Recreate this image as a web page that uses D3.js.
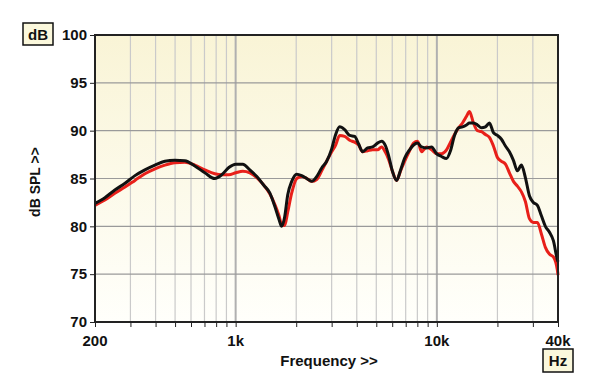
<!DOCTYPE html>
<html>
<head>
<meta charset="utf-8">
<script src="https://cdn.jsdelivr.net/npm/d3@7"></script>
<style>
  body { margin: 0; background: #fff; }
  svg text { font-family: "Liberation Sans", Arial, sans-serif; font-weight: bold; fill: #111; }
</style>
</head>
<body>
<div id="chart"></div>
<script>
// frequency points (Hz) shared by both traces
const freqs = [200, 224, 251, 282, 316, 354, 397, 445, 499, 559, 627, 703, 788, 854, 925, 1002,
  1085, 1176, 1274, 1380, 1478, 1565, 1638, 1694, 1753, 1815, 1900, 2012, 2130, 2255, 2388, 2528,
  2677, 2834, 3001, 3141, 3288, 3481, 3686, 3903, 4086, 4276, 4527, 4793, 5075, 5313, 5562, 5757,
  6026, 6308, 6603, 6911, 7318, 7660, 8018, 8393, 8886, 9409, 9962, 10548, 11168, 11690, 12238,
  12812, 13410, 14040, 14522, 15204, 15914, 16658, 17436, 18254, 19104, 20000, 20940, 21920,
  22940, 24020, 25140, 26320, 27540, 28840, 30180, 31600, 33080, 34620, 36240, 37940, 39720, 40000]

const blackSPL = [82.4, 83.0, 83.8, 84.5, 85.3, 85.9, 86.4, 86.8, 86.9, 86.85, 86.3, 85.6, 85.0, 85.4, 86.15, 86.5,
  86.5, 85.9, 85.2, 84.3, 83.5, 82.1, 80.8, 80.0, 81.0, 83.3, 84.7, 85.45, 85.3, 85.0, 84.7, 85.2,
  86.1, 86.8, 88.1, 89.6, 90.4, 90.1, 89.5, 89.4, 88.6, 87.8, 88.2, 88.3, 88.7, 88.9, 88.4, 87.4,
  85.7, 84.8, 85.9, 87.1, 88.0, 88.5, 88.7, 88.3, 88.2, 88.3, 87.6, 87.3, 87.1, 87.9, 89.5,
  90.3, 90.4, 90.6, 90.8, 90.8, 90.6, 90.3, 90.4, 90.8, 89.8, 89.5, 89.1, 88.4,
  87.8, 86.9, 85.8, 86.4, 85.1, 83.2, 82.5, 82.2, 81.1, 80.0, 79.4, 78.5, 76.5, 76.3]

const redSPL = [82.2, 82.75, 83.45, 84.1, 84.8, 85.5, 86.0, 86.4, 86.65, 86.7, 86.4, 85.9, 85.5, 85.4, 85.4, 85.6,
  85.75, 85.6, 85.1, 84.3, 83.4, 82.3, 81.2, 80.2, 80.1, 81.5, 83.5, 85.0, 85.2, 85.0, 84.7, 84.9,
  85.8, 86.8, 87.8, 88.5, 89.5, 89.4, 89.0, 88.8, 88.5, 87.8, 87.9, 88.0, 88.0, 88.3, 87.7, 87.0,
  85.7, 84.8, 85.8, 86.8, 87.9, 88.7, 88.9, 87.8, 88.3, 88.0, 87.6, 87.6, 88.0, 88.8, 89.6,
  90.3, 90.8, 91.5, 92.0, 90.8, 90.0, 89.9, 89.6, 89.3, 88.4, 87.2, 86.8, 86.5,
  85.6, 84.7, 84.2, 83.6, 82.6, 80.8, 80.4, 80.4, 79.2, 77.8, 77.1, 76.8, 75.4, 74.9]

const yTicks = [70, 75, 80, 85, 90, 95, 100]
const xGrid = [200, 300, 400, 500, 600, 700, 800, 900, 1000, 2000, 3000, 4000, 5000, 6000, 7000, 8000, 9000,
  10000, 20000, 30000, 40000]
const xLabels = [[200, "200"], [1000, "1k"], [10000, "10k"], [40000, "40k"]]

const W = 600, H = 389
const margin = {left: 95, right: 42, top: 35, bottom: 67}

const x = d3.scaleLog().domain([200, 40000]).range([margin.left, W - margin.right])
const y = d3.scaleLinear().domain([70, 100]).range([H - margin.bottom, margin.top])

const svg = d3.select('#chart').append('svg')
    .attr('width', W)
    .attr('height', H)

const defs = svg.append('defs')
const grad = defs.append('linearGradient')
    .attr('id', 'bg').attr('x1', 0).attr('y1', 0).attr('x2', 0).attr('y2', 1)
grad.append('stop').attr('offset', '0%').attr('stop-color', '#f9f4d6')
grad.append('stop').attr('offset', '100%').attr('stop-color', '#fffffb')

svg.append('rect')
    .attr('x', x(200)).attr('y', y(100))
    .attr('width', x(40000) - x(200)).attr('height', y(70) - y(100))
    .attr('fill', 'url(#bg)')

// vertical grid
svg.append('g').selectAll('line')
    .data(xGrid)
    .join('line')
    .attr('x1', d => x(d)).attr('x2', d => x(d))
    .attr('y1', y(100)).attr('y2', y(70))
    .attr('stroke', d => (d === 1000 || d === 10000) ? '#b0b0b0' : '#cacaca')
    .attr('stroke-width', d => (d === 1000 || d === 10000) ? 2 : 1.2)

// horizontal grid
svg.append('g').selectAll('line')
    .data(yTicks)
    .join('line')
    .attr('x1', x(200)).attr('x2', x(40000))
    .attr('y1', d => y(d)).attr('y2', d => y(d))
    .attr('stroke', '#9a9a9a')
    .attr('stroke-width', 1.2)

// traces
const line = d3.line()
    .x((d, i) => x(freqs[i]))
    .y(d => y(d))
    .curve(d3.curveMonotoneX)

svg.append('path')
    .attr('d', line(redSPL))
    .attr('fill', 'none')
    .attr('stroke', '#e8201a')
    .attr('stroke-width', 3)
    .attr('stroke-linejoin', 'round')

svg.append('path')
    .attr('d', line(blackSPL))
    .attr('fill', 'none')
    .attr('stroke', '#111')
    .attr('stroke-width', 3)
    .attr('stroke-linejoin', 'round')

// frame
svg.append('rect')
    .attr('x', x(200)).attr('y', y(100))
    .attr('width', x(40000) - x(200)).attr('height', y(70) - y(100))
    .attr('fill', 'none')
    .attr('stroke', '#222')
    .attr('stroke-width', 2)

// y axis
const yAxis = svg.append('g')
    .attr('transform', `translate(${x(200) - 1}, 0)`)
    .call(d3.axisLeft(y).tickValues(yTicks).tickSize(4).tickPadding(3))
yAxis.select('.domain').remove()
yAxis.selectAll('line').attr('stroke', '#222')
yAxis.selectAll('text').attr('font-size', 15).attr('fill', '#111')
    .style('font-family', '"Liberation Sans", Arial, sans-serif').style('font-weight', 'bold')

// x axis ticks
const xAxis = svg.append('g')
    .attr('transform', `translate(0, ${y(70) + 1})`)
    .call(d3.axisBottom(x).tickValues(xGrid).tickSize(4).tickFormat(''))
xAxis.select('.domain').remove()
xAxis.selectAll('line').attr('stroke', '#222')

svg.append('g').selectAll('text')
    .data(xLabels)
    .join('text')
    .attr('x', d => x(d[0]))
    .attr('y', y(70) + 24)
    .attr('text-anchor', 'middle')
    .attr('font-size', 15)
    .text(d => d[1])

svg.append('text')
    .attr('x', 329).attr('y', 366)
    .attr('text-anchor', 'middle')
    .attr('font-size', 15)
    .text('Frequency >>')

svg.append('text')
    .attr('transform', 'translate(40, 182) rotate(-90)')
    .attr('text-anchor', 'middle')
    .attr('font-size', 14)
    .text('dB SPL >>')

// unit boxes
const unitBox = (bx, by, bw, bh, label) => {
    svg.append('rect')
        .attr('x', bx).attr('y', by).attr('width', bw).attr('height', bh)
        .attr('fill', '#fbf8dc').attr('stroke', '#111').attr('stroke-width', 1.5)
    svg.append('text')
        .attr('x', bx + bw / 2).attr('y', by + bh / 2 + 5.5)
        .attr('text-anchor', 'middle')
        .attr('font-size', 15)
        .text(label)
}
unitBox(23, 23, 30, 22, 'dB')
unitBox(543, 349, 30, 23, 'Hz')
</script>
</body>
</html>
